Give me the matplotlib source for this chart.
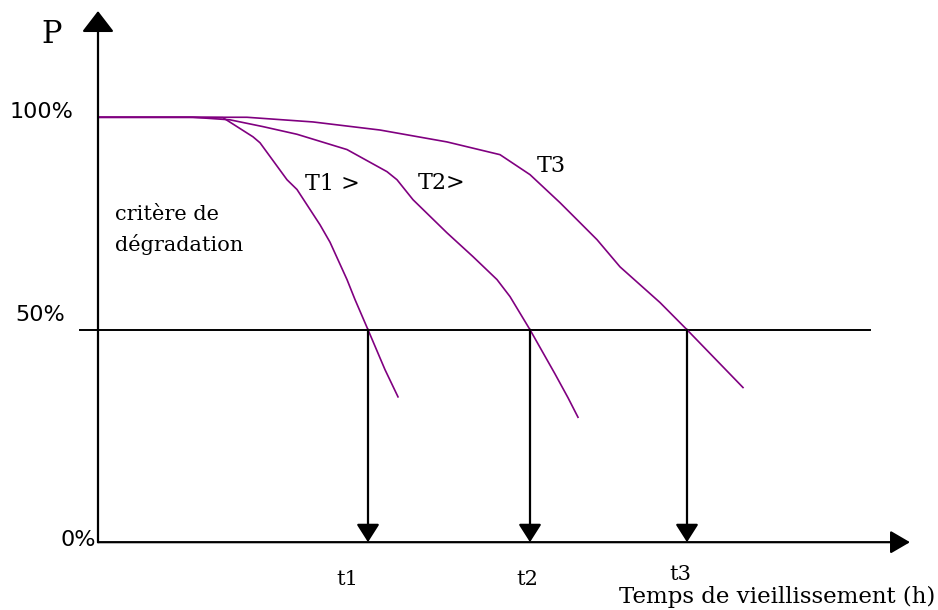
import matplotlib
matplotlib.use("Agg")
import matplotlib.pyplot as plt

# courbes de vieillissement (temps en unités arbitraires, P en %)
t_T1 = [0, 0.92, 1.25, 1.55, 1.62, 1.89, 1.99, 2.22, 2.32, 2.49, 2.57, 2.70, 2.87, 3.00]
p_T1 = [100, 100, 99.9, 95.4, 94.0, 85.3, 83.0, 74.7, 70.6, 61.8, 57.1, 50, 40.6, 34.2]

t_T2 = [0, 0.95, 1.32, 1.65, 1.99, 2.49, 2.89, 2.99, 3.15, 3.49, 3.75, 3.99, 4.12, 4.32, 4.57, 4.70, 4.80]
p_T2 = [100, 100, 99.4, 97.8, 96.0, 92.4, 87.2, 85.3, 80.6, 72.8, 67.2, 61.8, 57.8, 50, 39.6, 34.0, 29.4]

t_T3 = [0, 1.49, 2.15, 2.82, 3.49, 4.02, 4.32, 4.62, 4.82, 4.99, 5.22, 5.62, 5.89, 6.45]
p_T3 = [100, 100, 98.9, 97.0, 94.2, 91.2, 86.5, 79.9, 75.2, 71.2, 64.8, 56.4, 50, 36.4]

t_crit = [2.70, 4.32, 5.89]
labels_t = ["t1", "t2", "t3"]
p_crit = 50

violet = "#800080"
serif = "DejaVu Serif"

fig = plt.figure(figsize=(9.38, 6.10), dpi=100)
ax = fig.add_axes([0, 0, 1, 1])
ax.set_xlim(-0.98, 8.40)
ax.set_ylim(-15.96, 127.6)
ax.axis("off")

# axes avec flèches
ax.annotate("", xy=(0, 125), xytext=(0, 0),
            arrowprops=dict(arrowstyle="-|>,head_length=0.65,head_width=0.5", color="black",
                            lw=1.6, mutation_scale=20, shrinkA=0, shrinkB=0))
ax.annotate("", xy=(8.12, 0), xytext=(0, 0),
            arrowprops=dict(arrowstyle="-|>,head_length=0.6,head_width=0.35", color="black",
                            lw=1.6, mutation_scale=20, shrinkA=0, shrinkB=0))

# critère 50 %
ax.plot([-0.18, 7.72], [p_crit, p_crit], color="black", lw=1.4)

# courbes
ax.plot(t_T1, p_T1, color=violet, lw=1.2)
ax.plot(t_T2, p_T2, color=violet, lw=1.2)
ax.plot(t_T3, p_T3, color=violet, lw=1.2)

# flèches vers t1, t2, t3
for t in t_crit:
    ax.annotate("", xy=(t, 0), xytext=(t, p_crit),
                arrowprops=dict(arrowstyle="-|>,head_length=0.55,head_width=0.35", color="black",
                                lw=1.6, mutation_scale=20, shrinkA=0, shrinkB=0))

# textes
ax.text(-0.46, 119.4, "P", family=serif, fontsize=22, ha="center", va="center")
ax.text(-0.88, 101.3, "100%", fontsize=16, ha="left", va="center")
ax.text(-0.83, 53.5, "50%", fontsize=16, ha="left", va="center")
ax.text(-0.02, 0.6, "0%", fontsize=16, ha="right", va="center")
ax.text(0.17, 77.1, "critère de", family=serif, fontsize=15, ha="left", va="center")
ax.text(0.17, 70.0, "dégradation", family=serif, fontsize=15, ha="left", va="center")
ax.text(2.07, 84.4, "T1 >", family=serif, fontsize=16, ha="left", va="center")
ax.text(3.20, 84.6, "T2>", family=serif, fontsize=16, ha="left", va="center")
ax.text(4.39, 88.6, "T3", family=serif, fontsize=16, ha="left", va="center")
ax.text(2.49, -8.8, labels_t[0], family=serif, fontsize=15, ha="center", va="center")
ax.text(4.29, -8.8, labels_t[1], family=serif, fontsize=15, ha="center", va="center")
ax.text(5.82, -7.6, labels_t[2], family=serif, fontsize=15, ha="center", va="center")
ax.text(8.37, -12.8, "Temps de vieillissement (h)", family=serif, fontsize=16.5,
        ha="right", va="center")

fig.savefig("out.png", dpi=100)
